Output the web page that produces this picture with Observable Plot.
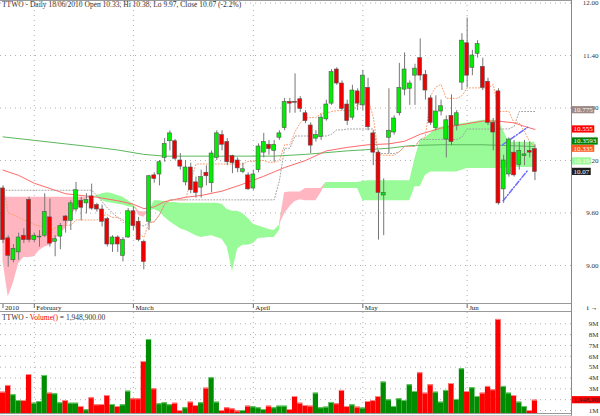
<!DOCTYPE html>
<html><head><meta charset="utf-8">
<script src="https://cdn.jsdelivr.net/npm/d3@7"></script>
<script src="https://cdn.jsdelivr.net/npm/@observablehq/plot@0.6"></script>
<style>
body{margin:0;background:#fff;}
#wrap{position:relative;width:600px;height:416px;overflow:hidden;background:#fff;}
#wrap svg{display:block;}
</style></head><body><div id="wrap"></div>
<script>
// ---- data (trading days 22 Jan 2010 .. 18 Jun 2010, index 1..103) ----
const titleText = "TTWO - Daily 18/06/2010 Open 10.33, Hi 10.38, Lo 9.97, Close 10.07 (-2.2%)";
const open = [9.88,9.31,9.06,9.15,9.34,9.75,9.29,9.32,9.34,9.55, 9.27,9.33,9.56,9.51,9.64,9.74,9.71,9.79,9.69,9.64, 9.53,9.24,9.32,9.11,9.32,9.62,9.50,9.27,9.50,10.03, 10.04,10.23,10.42,10.42,10.20,9.95,10.12,9.95,9.89,10.06, 9.94,10.23,10.49,10.41,10.25,10.20,10.07,10.03,9.88,10.09, 10.29,10.38,10.31,10.46,10.57,10.87,10.87,10.90,10.74,10.60, 10.45,10.47,10.67,10.85,11.24,11.08,10.84,10.69,10.99,10.83, 11.03,10.51,10.29,9.80,10.46,10.52,10.74,11.01,11.02,11.17, 11.37,11.18,10.91,10.57,10.76,10.44,10.71,10.60,11.09,11.54, 11.26,11.42,11.27,11.10,10.63,10.99,9.87,10.04,10.29,10.15, 10.25,10.31,10.33];
const high = [9.91,9.34,9.24,9.37,9.42,9.78,9.37,9.40,9.82,9.76, 9.34,9.48,9.57,9.74,9.95,9.78,9.82,9.93,9.71,9.69, 9.55,9.34,9.34,9.32,9.65,9.67,9.55,9.29,10.03,10.06, 10.20,10.45,10.54,10.44,10.28,10.20,10.17,10.01,10.09,10.14, 10.31,10.54,10.54,10.45,10.26,10.23,10.17,10.06,10.09,10.39, 10.51,10.43,10.43,10.54,10.91,10.91,11.19,10.93,10.77,10.63, 10.54,10.73,10.89,11.24,11.26,11.11,10.89,11.06,11.02,11.23, 11.14,10.54,10.31,9.99,11.02,10.71,11.31,11.43,11.11,11.30, 11.59,11.23,10.94,10.94,10.89,10.71,10.95,10.77,11.65,11.83, 11.46,11.57,11.37,11.14,10.68,11.02,10.26,10.46,10.43,10.41, 10.43,10.41,10.38];
const low = [9.25,8.98,9.03,9.06,9.25,9.26,9.26,9.21,9.32,9.21, 9.10,9.18,9.37,9.40,9.61,9.51,9.59,9.63,9.61,9.44, 9.21,9.15,9.15,9.04,9.31,9.40,9.27,8.95,9.40,9.94, 9.91,10.18,10.31,10.20,10.09,9.91,9.82,9.77,9.77,9.91, 9.83,10.20,10.31,10.14,10.05,10.06,10.05,9.86,9.86,10.06, 10.23,10.26,10.18,10.43,10.54,10.74,10.74,10.75,10.62,10.28, 10.41,10.43,10.65,10.83,11.06,10.77,10.60,10.66,10.77,10.77, 10.54,10.14,9.29,9.34,10.28,10.49,10.71,10.94,10.83,10.83, 11.11,10.89,10.60,10.54,10.71,10.23,10.37,10.54,11.00,11.03, 11.17,11.37,11.00,10.60,10.31,9.69,9.71,10.01,10.01,10.09, 10.14,10.23,9.97];
const close = [9.29,9.11,9.19,9.32,9.29,9.29,9.34,9.33,9.61,9.25, 9.30,9.45,9.51,9.71,9.86,9.66,9.75,9.65,9.64,9.50, 9.24,9.32,9.24,9.29,9.62,9.45,9.29,9.04,10.02,9.99, 10.18,10.39,10.51,10.22,10.13,10.12,9.86,9.83,10.01,10.02, 10.28,10.51,10.38,10.18,10.17,10.11,10.10,9.87,10.04,10.36, 10.41,10.33,10.38,10.51,10.87,10.85,10.86,10.79,10.65,10.37, 10.49,10.69,10.84,11.21,11.08,10.79,10.65,11.00,10.85,11.17, 10.58,10.29,9.83,9.83,10.54,10.68,11.03,11.24,11.08,11.25, 11.17,11.00,10.63,10.76,10.82,10.66,10.41,10.74,11.57,11.17, 11.40,11.53,11.03,10.63,10.52,9.71,10.20,10.44,10.03,10.31, 10.27,10.29,10.07];
// volume, millions of shares
const volume = [2.69,3.31,2.45,1.92,1.92,4.32,1.67,1.83,4.23,2.60, 2.54,1.71,1.92,1.67,1.67,1.37,1.06,2.17,1.52,1.55, 2.38,1.55,1.37,1.52,2.78,2.08,2.08,5.52,7.55,3.00, 1.62,1.71,1.53,1.67,1.00,1.25,1.77,1.46,1.71,3.06, 4.02,1.77,1.00,1.25,1.15,0.95,1.00,1.40,1.34,1.25, 1.09,1.40,1.25,1.40,1.40,1.09,2.29,1.67,1.46,1.40, 2.60,1.25,1.31,1.74,1.62,2.85,1.37,1.52,1.31,1.22, 1.83,1.92,2.29,3.62,1.98,1.37,2.08,1.92,3.37,2.75, 4.48,2.60,3.37,2.69,1.77,2.85,3.49,2.02,4.85,2.75, 3.10,2.29,2.60,3.22,2.91,9.40,3.22,2.60,2.38,1.77, 1.37,1.00,1.9489];
// Ichimoku: conversion (tenkan) and base (kijun) lines, leading spans A and B
const tenkan = [9.90,9.60,9.58,9.55,9.52,9.50,9.47,9.45,9.45,9.40, 9.43,9.44,9.46,9.46,9.52,9.52,9.52,9.52,9.52,9.57, 9.58,9.55,9.55,9.49,9.49,9.49,9.37,9.32,9.49,9.50, 9.58,9.70,9.75,9.75,9.75,9.75,9.97,10.16,10.16,10.16, 10.16,10.16,10.16,10.16,10.16,10.16,10.16,10.19,10.19,10.20, 10.20,10.18,10.18,10.20,10.38,10.38,10.53,10.63,10.69,10.69, 10.69,10.74,10.74,10.76,10.77,10.77,10.77,10.77,10.84,10.85, 10.90,10.70,10.27,10.26,10.26,10.26,10.30,10.36,10.36,10.36, 10.44,10.47,10.94,11.04,11.07,10.91,10.91,10.91,10.94,11.03, 11.03,11.03,11.03,11.03,11.07,10.76,10.76,10.76,10.63,10.63, 10.53,10.41,10.36];
const kijun = [9.86,9.86,9.86,9.86,9.86,9.86,9.86,9.86,9.86,9.86, 9.86,9.86,9.86,9.86,9.86,9.86,9.86,9.86,9.80,9.73, 9.66,9.60,9.55,9.52,9.49,9.47,9.47,9.45,9.49,9.50, 9.58,9.70,9.75,9.75,9.75,9.75,9.75,9.75,9.75,9.75, 9.75,9.75,9.75,9.75,9.75,9.75,9.75,9.75,9.75,9.75, 9.75,9.75,9.75,9.97,10.34,10.34,10.48,10.48,10.48,10.48, 10.48,10.48,10.48,10.50,10.55,10.55,10.56,10.56,10.56,10.56, 10.56,10.56,10.28,10.28,10.28,10.28,10.30,10.36,10.36,10.36, 10.44,10.44,10.44,10.44,10.44,10.44,10.44,10.44,10.47,10.56, 10.56,10.56,10.56,10.56,10.56,10.56,10.56,10.56,10.59,10.76, 10.76,10.76,10.76];
const spanA = [9.05,8.64,8.80,9.02,9.09,9.09,9.10,9.17,9.21,9.23, 9.29,9.37,9.42,9.55,9.65,9.72,9.76,9.775,9.80,9.82, 9.83,9.82,9.80,9.78,9.74,9.70,9.57,9.55,9.62,9.74, 9.74,9.73,9.72,9.72,9.71,9.71,9.71,9.71,9.71,9.71, 9.71,9.71,9.70,9.64,9.62,9.62,9.59,9.54,9.47,9.45, 9.43,9.41,9.40,9.46,9.59,9.67,9.73,9.75,9.74,9.74, 9.74,9.83,9.95,9.95,9.95,9.95,9.95,9.95,9.95,9.96, 9.97,9.97,9.97,9.97,9.97,9.97,9.97,9.97,9.97,10.22, 10.43,10.46,10.51,10.57,10.58,10.59,10.60,10.61,10.62,10.63, 10.64,10.65,10.66,10.66,10.66,10.65,10.54,10.41,10.41,10.41, 10.41,10.41,10.41];
const spanB = [9.78,9.78,9.78,9.78,9.78,9.78,9.78,9.78,9.78,9.78, 9.78,9.78,9.78,9.78,9.78,9.78,9.78,9.78,9.78,9.74, 9.72,9.71,9.70,9.69,9.67,9.66,9.62,9.61,9.62,9.64, 9.61,9.55,9.50,9.46,9.42,9.40,9.37,9.34,9.32,9.33, 9.34,9.32,9.30,9.21,8.93,9.19,9.23,9.23,9.25,9.31, 9.31,9.32,9.32,9.40,9.83,9.84,9.84,9.84,9.88,9.88, 9.88,9.88,9.88,9.88,9.88,9.88,9.88,9.88,9.88,9.74, 9.74,9.74,9.74,9.74,9.74,9.74,9.74,9.74,9.74,9.90, 9.90,10.03,10.07,10.07,10.07,10.07,10.07,10.07,10.09,10.11, 10.11,10.11,10.11,10.11,10.11,10.11,10.11,10.12,10.12,10.12, 10.12,10.12,10.12];
// moving averages read at sample days
const greenIdx = [1,7,13,19,23,28,32,43,53,59,67,75,79,85,93,103];
const greenMA  = [10.47,10.43,10.39,10.35,10.32,10.27,10.25,10.25,10.25,10.27,10.31,10.34,10.37,10.38,10.38,10.36];
const redIdx = [1,4,7,10,13,16,19,23,26,28,30,32,36,39,43,47,51,55,59,63,67,71,75,78,81,85,89,93,96,99,101,103];
const redMA  = [10.09,10.03,9.94,9.88,9.82,9.80,9.78,9.74,9.70,9.65,9.67,9.73,9.78,9.80,9.85,9.93,10.02,10.12,10.20,10.31,10.35,10.38,10.39,10.42,10.50,10.57,10.61,10.65,10.65,10.63,10.59,10.555];
// hand-drawn trend lines (day index, price)
const trendUpIdx = [96.8,101.6], trendUpVal = [10.38,10.58];
const trendLoIdx = [96.9,101.5], trendLoVal = [9.74,10.08];
// axes
const monthIdx = [1,7,26,49,70,90];
const monthLabels = ["2010","February","March","April","May","Jun"];
const priceTicks = [9.00,9.60,10.20,10.80,11.40,12.00];
const volTicks = [1,2,3,4,5,6,7,8,9];
const volLabels = ["1M","2M","3M","4M","5M","6M","7M","8M","9M"];
const lastValues = [10.775,10.555,10.3593,10.335,10.19,10.07];
const lastTexts  = ["10.775","10.555","10.3593","10.335","10.19","10.07"];
const lastFills  = ["#9c8984","#ff0000","#008000","#ff5a1e","#98fb98","#1e1e1e"];
const lastVolume = 1.9489, lastVolumeText = "1,948,900";

// ---- build tables ----
const days = open.map((o,k)=>({i:k+1,o,h:high[k],l:low[k],c:close[k],v:volume[k],up:close[k]>=o,
  t:tenkan[k],kj:kijun[k],a:spanA[k],b:spanB[k]}));
const greenRows = greenIdx.map((i,k)=>({i,v:greenMA[k]}));
const redRows = redIdx.map((i,k)=>({i,v:redMA[k]}));
const trendRows = [...trendUpIdx.map((i,k)=>({g:"u",i,v:trendUpVal[k]})),...trendLoIdx.map((i,k)=>({g:"l",i,v:trendLoVal[k]}))];
const months = monthIdx.map((i,k)=>({i,label:monthLabels[k]}));

const FONT = "'Liberation Serif','Times New Roman',serif";
const xOpt = {type:"linear",domain:[0.52,110.01],axis:null};
const dotted = {stroke:"#b0b0b0",strokeOpacity:1,strokeDasharray:"1,4"};

const main = Plot.plot({
  width:600,height:312,marginTop:0,marginRight:29,marginBottom:8,marginLeft:0,
  x:xOpt, y:{domain:[8.554,12.029],axis:null}, color:{type:"identity"},
  style:{fontFamily:FONT,fontSize:"7px",background:"#fff"},
  marks:[
    Plot.gridY(priceTicks,dotted),
    Plot.gridX(monthIdx.slice(1),dotted),
    Plot.areaY(days,{x:"i",y1:"b",y2:d=>Math.max(d.a,d.b),fill:"#98fb98"}),
    Plot.areaY(days,{x:"i",y1:"a",y2:d=>Math.max(d.a,d.b),fill:"#ffb6c1"}),
    Plot.line(greenRows,{x:"i",y:"v",stroke:"#5cb85c",strokeWidth:1}),
    Plot.line(redRows,{x:"i",y:"v",stroke:"#ff6a6a",strokeWidth:1}),
    Plot.line(days,{x:"i",y:"kj",stroke:"#a0a0a0",strokeWidth:1,strokeDasharray:"1,2"}),
    Plot.line(days,{x:"i",y:"t",stroke:"#ff9a6a",strokeWidth:1,strokeDasharray:"1,2"}),
    Plot.line(trendRows,{x:"i",y:"v",z:"g",stroke:"#6b6bff",strokeWidth:1.5,strokeDasharray:"5,2,1,2"}),
    Plot.ruleX(days,{x:"i",y1:"l",y2:"h",stroke:"#777",strokeWidth:1}),
    Plot.rect(days,{x1:d=>d.i-0.38,x2:d=>d.i+0.38,y1:"o",y2:"c",fill:d=>d.up?"#00ee00":"#ee0000",stroke:"#555",strokeWidth:0.6}),
    Plot.axisX(monthIdx,{tickSize:4,tickFormat:()=>"",stroke:"#666"}),
    Plot.text(months,{x:"i",text:"label",frameAnchor:"bottom",lineAnchor:"top",textAnchor:"start",dx:2,dy:0.5,fill:"#222",fontSize:7}),
    Plot.text(priceTicks,{y:d=>d,text:d=>d.toFixed(2),frameAnchor:"right",dx:27,textAnchor:"end",fill:"#333",fontSize:7})
  ]
});

const vol = Plot.plot({
  width:600,height:104,marginTop:0,marginRight:29,marginBottom:3,marginLeft:0,
  x:xOpt, y:{domain:[0.723,10.04],axis:null}, color:{type:"identity"},
  style:{fontFamily:FONT,fontSize:"7px",background:"#fff"},
  marks:[
    Plot.gridY(volTicks,dotted),
    Plot.gridX(monthIdx.slice(1),dotted),
    Plot.rect(days,{x1:d=>d.i-0.5,x2:d=>d.i+0.5,y1:0,y2:"v",fill:d=>d.up?"#008c00":"#ff0000",clip:true}),
    Plot.ruleY(days,{x1:d=>d.i-0.5,x2:d=>d.i+0.5,y:"v",stroke:d=>d.up?"#66cc66":"#ff8a8a"}),
    Plot.text(volTicks,{y:d=>d,text:(d,k)=>volLabels[k],frameAnchor:"right",dx:27,textAnchor:"end",fill:"#333",fontSize:7})
  ]
});

const wrap = document.getElementById("wrap");
wrap.appendChild(main);
wrap.appendChild(vol);

// furniture: frame lines and header texts
const xR = main.scale("x").range[1];
const sm = d3.select(main), sv = d3.select(vol);
const line = (s,x1,y1,x2,y2,c)=>s.append("line").attr("x1",x1).attr("y1",y1).attr("x2",x2).attr("y2",y2).attr("stroke",c).attr("stroke-width",1);
line(sm,0,0.5,xR+0.5,0.5,"#999");
line(sm,0,303.5,xR+0.5,303.5,"#999");
line(sm,0,311.5,xR+0.5,311.5,"#999");
line(sm,xR+0.5,0,xR+0.5,312,"#888");
line(sv,xR+0.5,0,xR+0.5,104,"#888");
line(sv,0,101.5,xR+0.5,101.5,"#999");
line(sv,0,103.5,xR+0.5,103.5,"#ccc");
sm.append("text").attr("x",2).attr("y",7).attr("text-anchor","start").attr("font-family",FONT).attr("font-size",7.5).attr("fill","#333").text(titleText);
const vh = sv.append("text").attr("x",2).attr("y",7.5).attr("text-anchor","start").attr("font-family",FONT).attr("font-size",7.5).attr("fill","#333");
vh.append("tspan").text("TTWO - ");
vh.append("tspan").attr("fill","#ff0000").text("Volume()");
vh.append("tspan").text(" = 1,948,900.00");

// last-value boxes on the right axis, placed through the y scales
function box(s,y,fill,txtColor,txt){
  const g = s.append("g");
  const r = g.append("rect").attr("x",xR+1).attr("y",y-3.6).attr("height",7.2).attr("fill",fill);
  const t = g.append("text").attr("x",xR+2.5).attr("y",y).attr("dy","0.34em").attr("text-anchor","start").attr("font-family",FONT).attr("font-size",7).attr("fill",txtColor).text(txt);
  r.attr("width",t.node().getComputedTextLength()+3);
}
const yS = main.scale("y");
const bs = lastValues.map((v,k)=>({y:yS.apply(v),fill:lastFills[k],text:lastTexts[k]})).sort((a,b)=>b.y-a.y);
for(let k=1;k<bs.length;k++) if(bs[k].y>bs[k-1].y-7.2) bs[k].y=bs[k-1].y-7.2;
bs.forEach(b=>box(sm,b.y,b.fill,"#fff",b.text));
box(sv,vol.scale("y").apply(lastVolume),"#ff0000","#222",lastVolumeText);
</script>
</body></html>
